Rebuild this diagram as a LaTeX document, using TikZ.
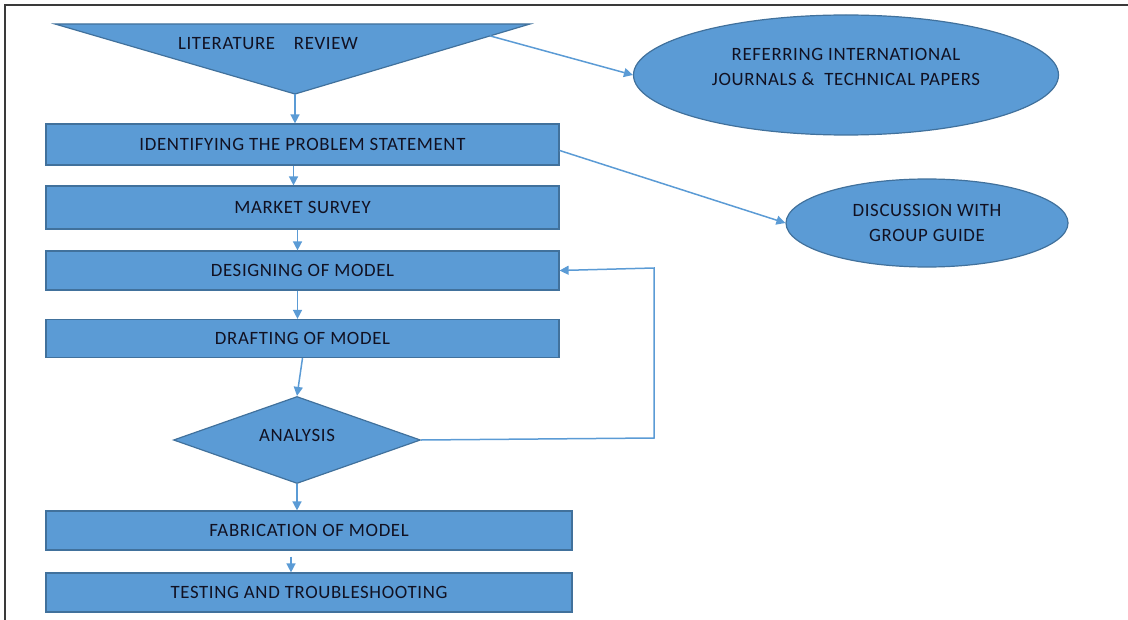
\documentclass[tikz,border=0pt]{standalone}
\usepackage{fontspec}
\setmainfont{Carlito}[LetterSpace=3.5]
\usepackage{xcolor}
\usepackage{tikz}
\usetikzlibrary{arrows.meta,positioning,calc,shapes.geometric}
\definecolor{officeblue}{HTML}{5B9BD5}
\definecolor{edgeblue}{HTML}{41719C}
\definecolor{arrowblue}{HTML}{5B9BD5}
\definecolor{framegray}{HTML}{3A3A3A}
\definecolor{ink}{HTML}{111122}
\newcommand{\flowfont}{\fontsize{9.4}{12.3}\selectfont}
\tikzset{
    every picture/.style={line join=miter},
    stagebox/.style={draw=edgeblue,fill=officeblue,line width=0.6pt,
      minimum width=256.5pt,minimum height=20.5pt,inner sep=0pt,
      text=ink,font=\flowfont,align=center},
    widebox/.style={stagebox,minimum width=263pt,minimum height=19.5pt},
    sourceoval/.style={ellipse,draw=edgeblue,fill=officeblue,line width=0.6pt,
      inner sep=0pt,text=ink,font=\flowfont,align=center},
    checkshape/.style={diamond,draw=edgeblue,fill=officeblue,line width=0.6pt,
      minimum width=123.5pt,minimum height=43.5pt,inner sep=0pt,aspect=2.8,
      text=ink,font=\flowfont},
    flowarrow/.style={-{Triangle[length=4.5pt,width=4.5pt]},draw=arrowblue,
      line width=0.75pt}
}

\begin{document}
\begin{tikzpicture}[x=0.5pt,y=-0.5pt]
    \useasboundingbox (0,0) rectangle (1128,620);
    % page frame
    \draw[framegray,line width=0.9pt] (5,620) -- (5,5) -- (1128,5);
    % literature review funnel
    \coordinate (litleft) at (55,24);
    \coordinate (litright) at (530,24);
    \coordinate (lit) at (295,94);
    \filldraw[draw=edgeblue,fill=officeblue,line width=0.6pt]
        (litleft) -- (litright) -- (lit) -- cycle;
    \node[text=ink,font=\flowfont] (littext) at (268,44) {LITERATURE\quad REVIEW};
    \coordinate (litside) at ($(litright)!0.17!(lit)$);
    % main column
    \node[stagebox] (problem) at (302.5,144.5) {IDENTIFYING THE PROBLEM STATEMENT};
    \node[stagebox,minimum height=21.5pt] (survey) at (302.5,207.5) {MARKET SURVEY};
    \node[stagebox,minimum height=19.5pt] (design) at (302.5,270.5) {DESIGNING OF MODEL};
    \node[stagebox,minimum height=19pt] (draft) at (302.5,338.5) {DRAFTING OF MODEL};
    \node[checkshape,text depth=5pt] (analysis) at (297,440) {ANALYSIS};
    \node[widebox] (fabricate) at (309,530.5) {FABRICATION OF MODEL};
    \node[widebox] (testing) at (309,592.5) {TESTING AND TROUBLESHOOTING};
    % side ovals
    \node[sourceoval,minimum width=212.5pt,minimum height=60pt,text depth=8pt] (journals) at (846,75)
        {REFERRING INTERNATIONAL\\JOURNALS \&\ \ TECHNICAL PAPERS};
    \node[sourceoval,minimum width=141pt,minimum height=44pt] (guide) at (927,223)
        {DISCUSSION WITH\\GROUP GUIDE};
    % connectors
    \draw[flowarrow] (lit) -- (lit |- problem.north);
    \draw[flowarrow] ([xshift=-4.5]problem.south) -- ([xshift=-4.5]survey.north);
    \draw[flowarrow] ([xshift=-2.5]survey.south) -- ([xshift=-2.5]design.north);
    \draw[flowarrow] ([xshift=-2.5]design.south) -- ([xshift=-2.5]draft.north);
    \draw[flowarrow] (draft.south) -- (analysis.north);
    \draw[flowarrow] (analysis.south) -- (analysis.south |- fabricate.north);
    \draw[flowarrow] ([xshift=-9,yshift=-3]fabricate.south) -- ([xshift=-9]testing.north);
    \draw[flowarrow] (analysis.east) -- (654,438) -- (654,268) -- (design.east);
    \draw[flowarrow] (litside) -- (journals.west);
    \draw[flowarrow] ([yshift=-3]problem.east) -- (guide.west);
\end{tikzpicture}
\end{document}
